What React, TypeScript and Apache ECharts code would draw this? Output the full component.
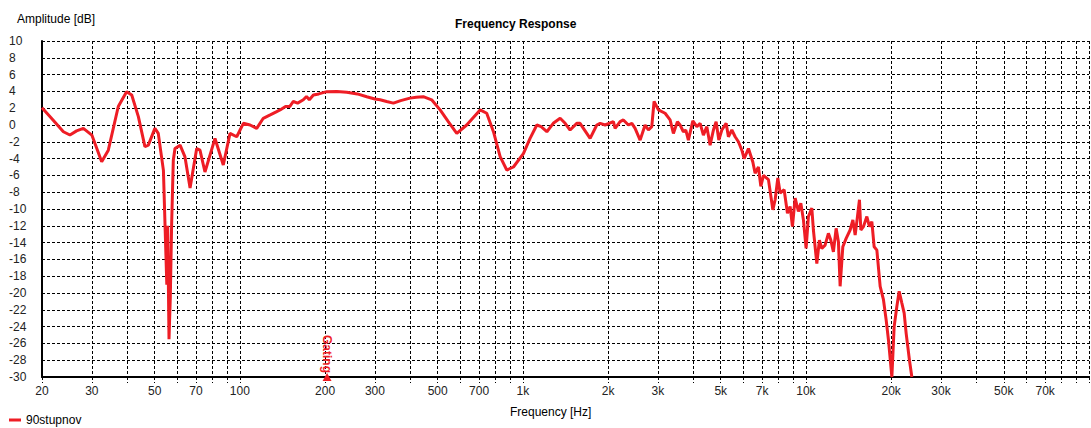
import React, { useEffect, useRef } from "react";
import * as echarts from "echarts";

// Measured frequency response (Hz, dB)
const freqHz = [
  20.0, 21.6, 23.8, 25.1, 26.5, 28.0, 30.0, 32.5, 34.3, 37.2, 39.8, 41.5, 43.8, 46.2, 47.5, 50.1,
  51.5, 53.7, 55.2, 55.6, 56.2, 56.8, 57.4, 58.2, 59.0, 61.5, 64.0, 66.7, 70.4, 72.3, 75.3, 81.7,
  87.4, 92.3, 97.5, 102.9, 108.7, 114.7, 121, 128, 135, 138.7, 145, 150, 154.5, 160, 167.6, 172,
  176, 181.9, 190, 202.8, 220, 238.6, 260, 280.8, 300, 312.9, 330, 348.7, 370, 399, 420, 444.6,
  476, 510, 545, 584, 633, 706, 745, 787, 831, 877, 926, 1004, 1060, 1120, 1160, 1215,
  1280, 1354, 1410, 1468, 1550, 1592, 1728, 1824, 1874, 1952, 2088, 2117, 2205, 2265, 2359, 2426,
  2491, 2595, 2702, 2776, 2853, 2907, 3011, 3180, 3312, 3402, 3515, 3592, 3690, 3763, 3843, 3984,
  4116, 4228, 4342, 4465, 4586, 4711, 4815, 4923, 5044, 5224, 5323, 5472, 5622, 5774, 5936, 6049,
  6264, 6491, 6614, 6794, 6928, 7077, 7370, 7639, 7783, 7955, 8107, 8374, 8603, 8793, 8959, 9159,
  9406, 9592, 9797, 10012, 10203, 10489, 10625, 10925, 11157, 11377, 11687, 12004, 12241, 12503, 12783, 13023,
  13205, 13497, 13869, 14326, 14647, 14923, 15204, 15454, 15629, 15964, 16411, 16762, 17094, 17416, 17805, 18288,
  18787, 19202, 19567, 20118, 20494, 20948, 21346, 21818, 22234, 22596, 23212, 23668,
];
const levelDb = [
  2.06, 0.8, -0.8, -1.19, -0.7, -0.4, -1.2, -4.37, -3.0, 2.2, 3.97, 3.57, 1.0, -2.58, -2.4, -0.4,
  -1.0, -5.4, -19.0, -12.0, -25.5, -20.5, -12.0, -4.2, -2.8, -2.4, -3.8, -7.5, -2.8, -3.0, -5.6, -1.6,
  -4.76, -1.0, -1.4, 0.2, 0.0, -0.4, 0.8, 1.2, 1.6, 1.79, 2.2, 2.2, 2.8, 2.6, 3.0, 3.4,
  3.0, 3.57, 3.7, 3.97, 4.0, 3.9, 3.7, 3.37, 3.1, 3.0, 2.8, 2.6, 2.9, 3.2, 3.3, 3.37,
  3.0, 1.8, 0.4, -1.0, 0.0, 1.8, 1.4, -0.8, -3.77, -5.36, -5.0, -3.4, -1.6, 0.0, -0.2, -0.8,
  0.2, 0.8, 0.2, -0.6, 0.2, 0.2, -1.6, 0.0, 0.2, 0.0, 0.4, -0.4, 0.4, 0.6, 0.0, 0.2,
  -0.4, -1.8, 0.0, -0.6, -0.2, 2.8, 1.8, 1.4, 0.6, -1.0, 0.4, 0.0, -0.8, -0.6, -1.8, 0.5,
  -0.2, 0.2, -1.2, -0.2, -2.4, -0.6, 0.4, -1.8, -0.6, 0.2, -1.4, -0.6, -1.4, -2.0, -3.0, -4.0,
  -2.8, -4.4, -5.75, -5.0, -7.3, -6.0, -6.5, -10.1, -8.9, -6.3, -8.1, -7.7, -10.5, -9.7, -12.1, -8.7,
  -10.3, -9.3, -11.3, -14.7, -10.9, -9.9, -12.5, -16.5, -13.7, -14.7, -14.3, -12.9, -13.7, -15.1, -12.3, -13.9,
  -19.2, -14.5, -13.5, -12.5, -11.3, -13.1, -10.9, -8.9, -12.5, -12.1, -10.9, -12.1, -11.5, -14.5, -14.9, -19.2,
  -20.8, -23.2, -25.6, -30.0, -24.0, -21.6, -19.8, -21.2, -22.4, -24.8, -28.0, -30.0,
];

const seriesName = "90stupnov";

// Labelled frequencies on the x axis
const tickLabelFreqs = [20, 30, 50, 70, 100, 200, 300, 500, 700, 1000, 2000, 3000, 5000, 7000, 10000, 20000, 30000, 50000, 70000];
const tickLabelTexts = ["20", "30", "50", "70", "100", "200", "300", "500", "700", "1k", "2k", "3k", "5k", "7k", "10k", "20k", "30k", "50k", "70k"];

// Vertical grid lines (log grid)
const gridFreqs = [
  20, 30, 40, 50, 60, 70, 80, 90,
  100, 200, 300, 400, 500, 600, 700, 800, 900,
  1000, 2000, 3000, 4000, 5000, 6000, 7000, 8000, 9000,
  10000, 20000, 30000, 40000, 50000, 60000, 70000, 80000, 90000, 100000,
];

const freqMin = 20;
const freqMax = 100000;
const dbMin = -30;
const dbMax = 10;
const dbStep = 2;

const gatingFreq = 200;
const gatingLabel = "Gating";

const RED = "#ee1d25";
const FONT = '"Liberation Sans", Arial, sans-serif';
const dash = [3, 2];

export default function App() {
  const ref = useRef<HTMLDivElement>(null);

  useEffect(() => {
    if (!ref.current) return;
    const chart = echarts.init(ref.current, null, { renderer: "svg" });
    const lg = (f: number) => Math.log10(f);
    const labelFor = (v: number) => {
      for (let i = 0; i < tickLabelFreqs.length; i++) {
        if (Math.abs(lg(tickLabelFreqs[i]) - v) < 1e-6) return tickLabelTexts[i];
      }
      return "";
    };

    chart.setOption({
      animation: false,
      backgroundColor: "#ffffff",
      textStyle: { fontFamily: FONT },
      title: {
        text: "Frequency Response",
        left: 455,
        top: 18,
        padding: 0,
        textStyle: { fontFamily: FONT, fontSize: 12, fontWeight: "bold", color: "#000" },
      },
      legend: {
        left: 9,
        top: 414,
        padding: 0,
        icon: "rect",
        itemWidth: 12,
        itemHeight: 3,
        itemGap: 10,
        data: [seriesName],
        textStyle: { fontFamily: FONT, fontSize: 12, color: "#000", padding: [0, 0, 0, 0] },
      },
      graphic: [
        {
          type: "text",
          left: 17,
          top: 13,
          style: { text: "Amplitude [dB]", font: `12px ${FONT}`, fill: "#000" },
        },
        {
          type: "text",
          left: 510,
          top: 406,
          style: { text: "Frequency [Hz]", font: `12px ${FONT}`, fill: "#000" },
        },
      ],
      grid: {
        left: 42,
        right: 2,
        top: 41,
        bottom: 51,
        containLabel: false,
        outerBoundsMode: "none",
      },
      xAxis: {
        type: "value",
        min: lg(freqMin),
        max: lg(freqMax),
        axisLine: { show: true, onZero: false, lineStyle: { color: "#000", width: 2 } },
        axisTick: {
          show: true,
          length: 6,
          customValues: gridFreqs.map(lg),
          lineStyle: { color: "#000", width: 1, type: dash },
        },
        axisLabel: {
          show: true,
          customValues: tickLabelFreqs.map(lg),
          formatter: (v: number) => labelFor(v),
          margin: 8,
          fontFamily: FONT,
          fontSize: 12,
          color: "#222",
        },
        splitLine: { show: true, lineStyle: { color: "#000", width: 1, type: dash } },
      },
      yAxis: {
        type: "value",
        min: dbMin,
        max: dbMax,
        interval: dbStep,
        axisLine: { show: true, onZero: false, lineStyle: { color: "#000", width: 2 } },
        axisTick: { show: false },
        axisLabel: {
          align: "left",
          margin: 33,
          fontFamily: FONT,
          fontSize: 12,
          color: "#222",
        },
        splitLine: { show: true, lineStyle: { color: "#000", width: 1, type: dash } },
      },
      series: [
        {
          name: seriesName,
          type: "line",
          showSymbol: false,
          symbol: "none",
          clip: true,
          itemStyle: { color: RED },
          lineStyle: { color: RED, width: 3 },
          data: freqHz.map((f, i) => [lg(f), levelDb[i]]),
          markPoint: {
            silent: true,
            symbol: "triangle",
            symbolSize: [9, 8],
            symbolOffset: [2, 0],
            itemStyle: { color: RED },
            label: {
              show: true,
              formatter: gatingLabel,
              position: ["50%", 0],
              align: "right",
              verticalAlign: "middle",
              rotate: -90,
              color: RED,
              fontFamily: FONT,
              fontSize: 12,
              fontWeight: "bold",
            },
            data: [{ coord: [lg(gatingFreq), dbMin] }],
          },
        },
      ],
    });

    return () => chart.dispose();
  }, []);

  return (
    <div
      ref={ref}
      style={{ position: "fixed", left: 0, top: 0, width: 1091, height: 428, background: "#fff" }}
    />
  );
}
